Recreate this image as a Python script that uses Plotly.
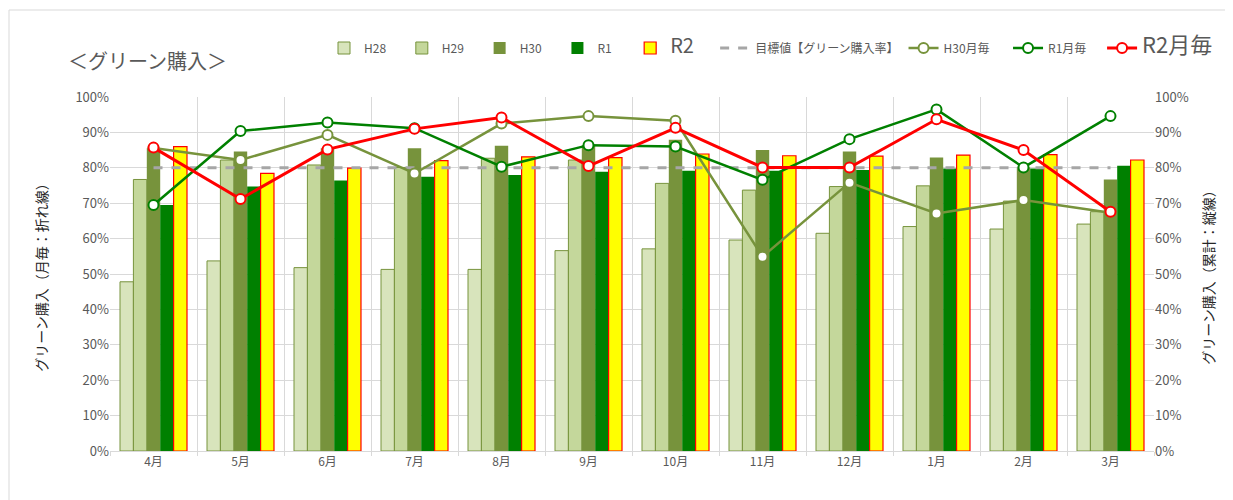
import plotly.graph_objects as go

months = ["4月", "5月", "6月", "7月", "8月", "9月", "10月", "11月", "12月", "1月", "2月", "3月"]

# cumulative rates (bars), %
h28 = [47.8, 53.7, 51.8, 51.3, 51.3, 56.6, 57.1, 59.6, 61.5, 63.4, 62.7, 64.1]
h29 = [76.7, 82.2, 80.8, 80.1, 82.7, 82.2, 75.6, 73.7, 74.7, 74.9, 70.6, 67.6]
h30 = [85.5, 84.6, 85.5, 85.5, 86.2, 86.4, 87.9, 85.0, 84.6, 82.9, 80.1, 76.7]
r1 = [69.5, 74.7, 76.4, 77.5, 78.0, 78.9, 79.2, 79.2, 79.4, 79.8, 79.8, 80.6]
r2 = [86.0, 78.4, 79.9, 82.0, 83.1, 82.9, 83.9, 83.4, 83.3, 83.6, 83.7, 82.2]

# monthly rates (lines), %
h30_month = [85.6, 82.2, 89.3, 78.4, 92.5, 94.6, 93.3, 54.9, 75.8, 67.1, 70.9, 67.3]
r1_month = [69.5, 90.4, 92.8, 91.2, 80.3, 86.4, 86.0, 76.6, 88.1, 96.5, 80.1, 94.6]
r2_month = [85.7, 71.2, 85.2, 91.0, 94.2, 80.5, 91.3, 80.1, 80.1, 93.7, 85.0, 67.6]

target = [80, 80, 80, 80, 80, 80, 80, 80, 80, 80, 80, 80]

OLIVE = "#77933C"
GREEN = "#008000"
RED = "#FF0000"
GRAY_TXT = "#595959"
FONT = "Noto Sans CJK JP"

# page body has an 8px margin, so the figure is 8px smaller and offset
W, H, OFF = 1225, 492, 8


def pad(n):
    # trailing non-breaking spaces to spread legend entries like the original
    return "\u00a0" * n


fig = go.Figure()

bar_specs = [
    ("H28" + pad(4), h28, "#D8E4BC", OLIVE, 1),
    ("H29" + pad(4), h29, "#C4D79B", OLIVE, 1),
    ("H30" + pad(4), h30, OLIVE, OLIVE, 0),
    ("R1" + pad(5), r1, GREEN, GREEN, 0),
    ("<span style='font-size:20px'>R2</span>" + pad(6), r2, "#FFFF00", RED, 1.2),
]
for name, vals, fill, edge, w in bar_specs:
    fig.add_trace(go.Bar(
        x=months, y=vals, name=name,
        marker=dict(color=fill, line=dict(color=edge, width=w)),
    ))

fig.add_trace(go.Scatter(
    x=months, y=target, name="目標値【グリーン購入率】", mode="lines",
    line=dict(color="#A6A6A6", width=3, dash="dash"), yaxis="y2",
))

line_specs = [
    ("H30月毎" + pad(5), h30_month, OLIVE, 2.5),
    ("R1月毎" + pad(4), r1_month, GREEN, 2.5),
    ("<span style='font-size:22px'>R2月毎</span>", r2_month, RED, 3),
]
for name, vals, col, w in line_specs:
    fig.add_trace(go.Scatter(
        x=months, y=vals, name=name, mode="lines+markers", yaxis="y2",
        line=dict(color=col, width=w),
        marker=dict(symbol="circle", size=10, color="white", line=dict(color=col, width=2)),
    ))

axis_common = dict(
    range=[0, 100], dtick=10, ticksuffix="%", automargin=True,
    tickfont=dict(size=13, color=GRAY_TXT, family=FONT),
    title_font=dict(size=14, color="#262626", family=FONT),
)

fig.update_layout(
    width=W, height=H,
    margin=dict(l=110 - OFF, r=79, t=97 - OFF, b=49, autoexpand=False),
    paper_bgcolor="white", plot_bgcolor="white",
    font=dict(family=FONT, color=GRAY_TXT),
    title=dict(text="＜グリーン購入＞", xref="container", x=(68 - OFF) / W, xanchor="left",
               yref="container", y=1 - (62 - OFF) / H, yanchor="middle",
               font=dict(size=20, color=GRAY_TXT, family=FONT)),
    barmode="group", bargap=0.23, bargroupgap=0,
    showlegend=True,
    legend=dict(orientation="h", x=(324 - 110) / 1044, xanchor="left",
                y=(451 - 48) / 354, yanchor="middle", valign="middle",
                font=dict(size=12, color=GRAY_TXT, family=FONT),
                traceorder="normal", bgcolor="rgba(0,0,0,0)"),
    xaxis=dict(
        range=[-0.5, 11.5], tickson="boundaries", showgrid=True, gridcolor="#D9D9D9", gridwidth=1,
        showline=True, linecolor="#D9D9D9", ticks="outside", tickcolor="#D9D9D9", ticklen=4,
        tickfont=dict(size=12, color=GRAY_TXT, family=FONT), automargin=False,
    ),
    yaxis=dict(title=dict(text="グリーン購入（月毎：折れ線）", standoff=24),
               showgrid=True, gridcolor="#D9D9D9", zeroline=False, **axis_common),
    yaxis2=dict(title=dict(text="グリーン購入（累計：縦線）", standoff=16),
                overlaying="y", side="right", showgrid=False, zeroline=False, **axis_common),
    shapes=[dict(type="rect", xref="paper", yref="paper",
                 x0=-101 / 1044, x1=1.2, y0=-60 / 354, y1=(451 - 10) / 354,
                 line=dict(color="#D9D9D9", width=1), layer="below")],
)

fig.write_html("out.html")
